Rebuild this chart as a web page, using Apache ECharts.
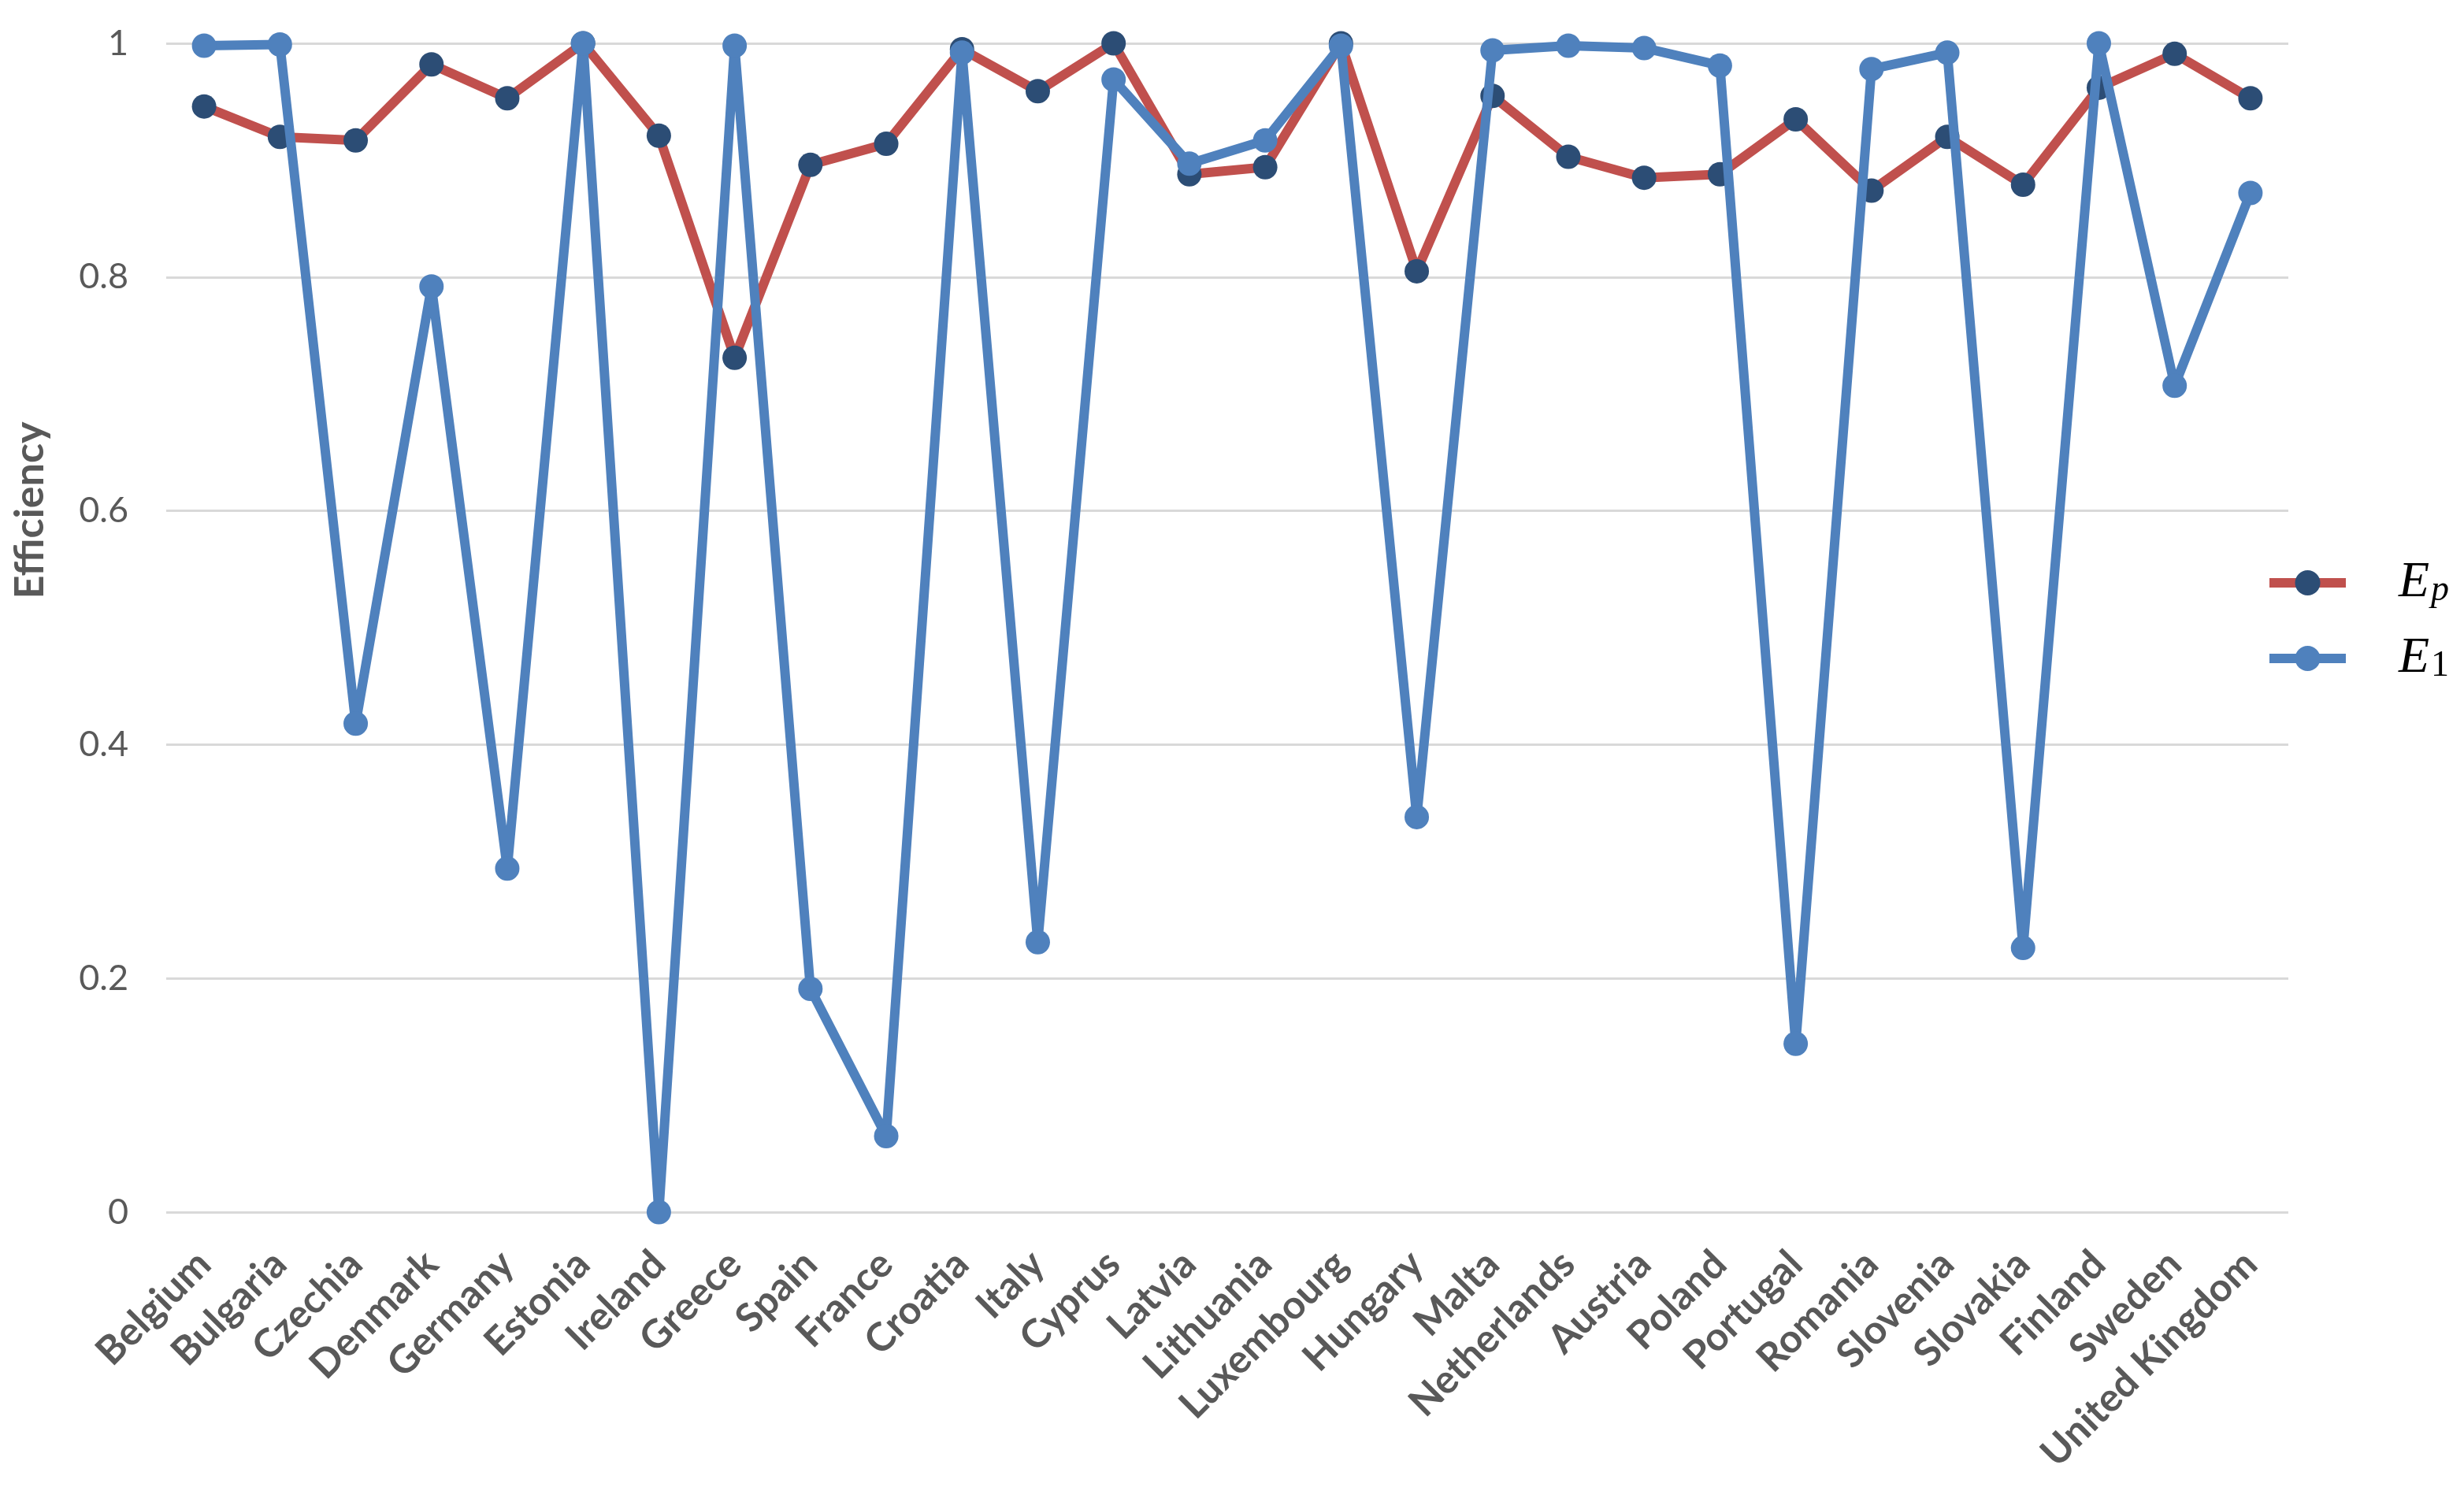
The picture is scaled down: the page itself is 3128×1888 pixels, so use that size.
<!DOCTYPE html>
<html>
<head>
<meta charset="utf-8">
<script src="https://cdn.jsdelivr.net/npm/echarts@6/dist/echarts.min.js"></script>
<style>
html,body{margin:0;padding:0;background:#fff;}
#chart{width:3128px;height:1888px;}
</style>
</head>
<body>
<div id="chart"></div>
<script>
const countries = ['Belgium','Bulgaria','Czechia','Denmark','Germany','Estonia','Ireland','Greece','Spain','France','Croatia','Italy','Cyprus','Latvia','Lithuania','Luxembourg','Hungary','Malta','Netherlands','Austria','Poland','Portugal','Romania','Slovenia','Slovakia','Finland','Sweden','United Kingdom'];
const Ep = [0.946,0.920,0.917,0.982,0.953,1.000,0.921,0.731,0.896,0.914,0.995,0.959,1.000,0.888,0.894,1.000,0.805,0.955,0.903,0.885,0.888,0.935,0.874,0.920,0.879,0.962,0.991,0.953];
const E1 = [0.998,0.999,0.418,0.792,0.294,1.000,0.000,0.998,0.191,0.065,0.992,0.231,0.969,0.897,0.917,0.998,0.338,0.994,0.998,0.996,0.981,0.144,0.978,0.992,0.226,1.000,0.707,0.872];
const yTicks = [0, 0.2, 0.4, 0.6, 0.8, 1];

const chart = echarts.init(document.getElementById('chart'));
const legendRich = {
  e: {fontFamily:'Liberation Serif', fontStyle:'italic', fontSize:64, lineHeight:70, color:'#000', padding:[0,0,0,62]},
  s: {fontFamily:'Liberation Serif', fontStyle:'italic', fontSize:46, lineHeight:70, color:'#000', padding:[20,0,0,2]},
  n: {fontFamily:'Liberation Serif', fontStyle:'normal', fontSize:46, lineHeight:70, color:'#000', padding:[20,0,0,2]}
};
const legendFmt = function(name){ return name === 'Ep' ? '{e|E}{s|p}' : '{e|E}{n|1}'; };
const legendBase = {left:2875, padding:0, itemWidth:97, itemHeight:40,
  lineStyle:{width:12}, formatter:legendFmt, textStyle:{rich:legendRich}};
chart.setOption({
  backgroundColor:'#fff',
  animation:false,
  grid:{left:211, right:223, top:55, bottom:349, containLabel:false},
  legend:[
    Object.assign({data:['Ep'], top:707}, legendBase),
    Object.assign({data:['E1'], top:803}, legendBase)
  ],
  xAxis:{
    type:'category', data:countries, boundaryGap:true,
    axisLine:{show:false}, axisTick:{show:false},
    axisLabel:{interval:0, rotate:45, margin:58, fontFamily:'Lato', fontWeight:'bold', fontSize:50, color:'#595959'}
  },
  yAxis:{
    type:'value', min:0, max:1, interval:0.2,
    name:'Efficiency', nameLocation:'middle', nameGap:147, nameRotate:90,
    nameTextStyle:{fontFamily:'Lato', fontWeight:'bold', fontSize:52, color:'#595959', padding:[0,0,0,298]},
    axisLine:{show:false}, axisTick:{show:false},
    axisLabel:{margin:48, fontFamily:'Lato', fontSize:45, color:'#595959',
      formatter:function(v){ return yTicks.indexOf(v) >= 0 ? String(Math.round(v*10)/10) : ''; }},
    splitLine:{lineStyle:{color:'#D9D9D9', width:3}}
  },
  series:[
    {name:'Ep', type:'line', data:Ep, symbol:'circle', symbolSize:31,
      lineStyle:{color:'#C0504D', width:12}, itemStyle:{color:'#2C4D75'}, z:2},
    {name:'E1', type:'line', data:E1, symbol:'circle', symbolSize:31,
      lineStyle:{color:'#4F81BD', width:12}, itemStyle:{color:'#4F81BD'}, z:3}
  ]
});
</script>
</body>
</html>
